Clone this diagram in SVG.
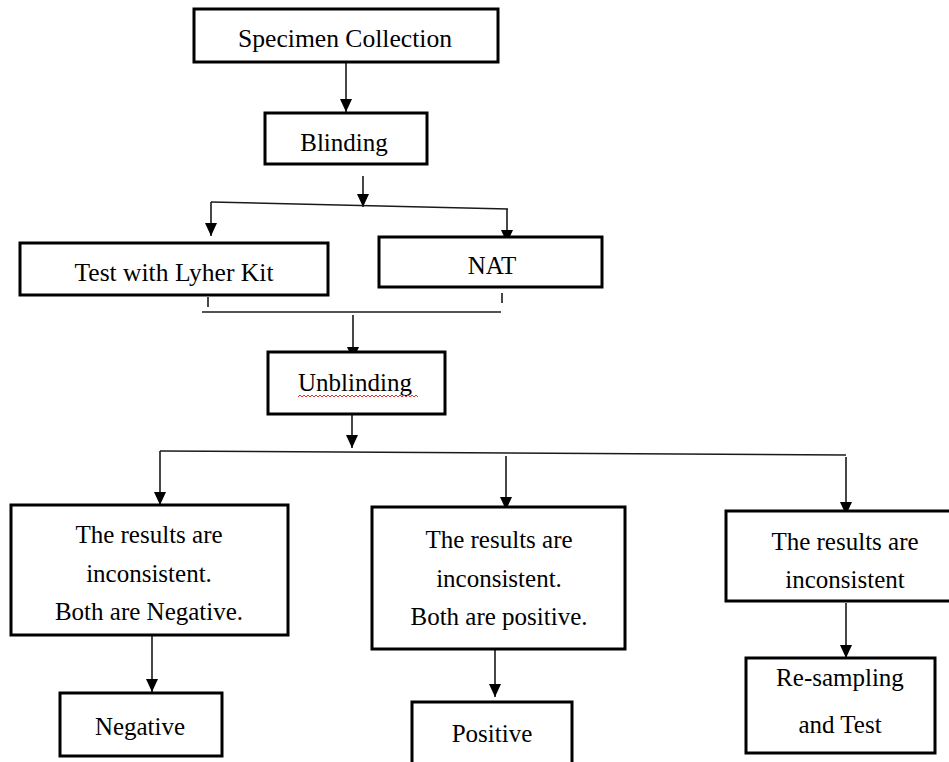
<svg xmlns="http://www.w3.org/2000/svg" width="949" height="762" viewBox="0 0 949 762">
<defs>
<marker id="ah" viewBox="0 0 13 12" refX="13" refY="6" markerWidth="13" markerHeight="12" markerUnits="userSpaceOnUse" orient="auto">
<path d="M0,0 L13,6 L0,12 z" fill="#000"/>
</marker>
<style>
.box{fill:#fff;stroke:#000;stroke-width:3}
.t{font-family:"Liberation Serif","Times New Roman",serif;font-size:25px;fill:#000;text-anchor:middle}
.c{fill:none;stroke:#1a1a1a;stroke-width:1.6}
.a{marker-end:url(#ah)}
</style>
</defs>
<rect width="949" height="762" fill="#fff"/>
<g id="connectors">
<line class="c a" x1="346" y1="62" x2="346" y2="112"/>
<line class="c a" x1="363" y1="176" x2="363" y2="207"/>
<line class="c" x1="211" y1="202" x2="508" y2="209"/>
<line class="c a" x1="211" y1="202" x2="211" y2="236"/>
<line class="c a" x1="507" y1="209" x2="507" y2="243"/>
<line class="c" x1="208" y1="297" x2="208" y2="307"/>
<line class="c" x1="502" y1="293" x2="502" y2="303"/>
<line class="c" x1="202" y1="312" x2="501" y2="312"/>
<line class="c a" x1="353" y1="315" x2="353" y2="360"/>
<line class="c a" x1="352" y1="414" x2="352" y2="448"/>
<line class="c" x1="160" y1="451" x2="846" y2="455"/>
<line class="c a" x1="160" y1="451" x2="160" y2="505"/>
<line class="c a" x1="506" y1="456" x2="506" y2="510"/>
<line class="c a" x1="846" y1="457" x2="846" y2="515"/>
<line class="c a" x1="152" y1="635" x2="152" y2="692"/>
<line class="c a" x1="495" y1="643" x2="495" y2="697"/>
<line class="c a" x1="846" y1="603" x2="846" y2="658"/>
</g>
<g id="specimen">
<rect class="box" x="194" y="9" width="304" height="53"/>
<text class="t" x="345" y="47" textLength="214" lengthAdjust="spacingAndGlyphs">Specimen Collection</text>
</g>
<g id="blinding">
<rect class="box" x="265" y="113" width="162" height="51"/>
<text class="t" x="344" y="151">Blinding</text>
</g>
<g id="test-kit">
<rect class="box" x="20" y="243" width="308" height="52"/>
<text class="t" x="174" y="281" textLength="199" lengthAdjust="spacingAndGlyphs">Test with Lyher Kit</text>
</g>
<g id="nat">
<rect class="box" x="379" y="237" width="223" height="50"/>
<text class="t" x="492" y="274">NAT</text>
</g>
<g id="unblinding">
<rect class="box" x="268" y="352" width="177" height="62"/>
<text class="t" x="355" y="391">Unblinding</text>
<path d="M298,397 l2,-2 l2,2 l2,-2 l2,2 l2,-2 l2,2 l2,-2 l2,2 l2,-2 l2,2 l2,-2 l2,2 l2,-2 l2,2 l2,-2 l2,2 l2,-2 l2,2 l2,-2 l2,2 l2,-2 l2,2 l2,-2 l2,2 l2,-2 l2,2 l2,-2 l2,2 l2,-2 l2,2 l2,-2 l2,2 l2,-2 l2,2 l2,-2 l2,2 l2,-2 l2,2 l2,-2 l2,2 l2,-2 l2,2 l2,-2 l2,2 l2,-2 l2,2 l2,-2 l2,2 l2,-2 l2,2 l2,-2 l2,2 l2,-2 l2,2 l2,-2 l2,2 l2,-2 l2,2 l2,-2 l2,2" fill="none" stroke="#d33" stroke-width="1"/>
</g>
<g id="both-negative">
<rect class="box" x="11" y="505" width="277" height="130"/>
<text class="t" x="149" y="543">The results are</text>
<text class="t" x="149" y="582">inconsistent.</text>
<text class="t" x="149" y="620">Both are Negative.</text>
</g>
<g id="negative">
<rect class="box" x="60" y="693" width="162" height="63"/>
<text class="t" x="140" y="735">Negative</text>
</g>
<g id="both-positive">
<rect class="box" x="372" y="507" width="253" height="142"/>
<text class="t" x="499" y="548">The results are</text>
<text class="t" x="499" y="587">inconsistent.</text>
<text class="t" x="499" y="625">Both are positive.</text>
</g>
<g id="positive">
<rect class="box" x="412" y="702" width="160" height="70"/>
<text class="t" x="492" y="742">Positive</text>
</g>
<g id="inconsistent">
<rect class="box" x="726" y="511" width="238" height="90"/>
<text class="t" x="845" y="550">The results are</text>
<text class="t" x="845" y="588">inconsistent</text>
</g>
<g id="resampling">
<rect class="box" x="746" y="658" width="189" height="95"/>
<text class="t" x="840" y="686">Re-sampling</text>
<text class="t" x="840" y="733">and Test</text>
</g>
</svg>
